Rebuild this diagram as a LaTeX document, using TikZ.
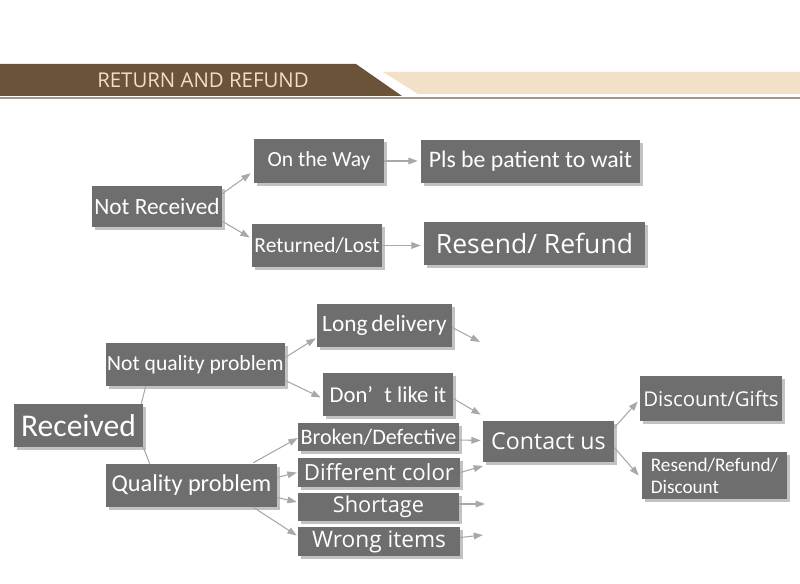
\documentclass[tikz,border=0pt]{standalone}
\usepackage{fontspec}
\setmainfont{Carlito}
\newfontfamily\opensans{Open Sans}
\usetikzlibrary{arrows.meta,calc,backgrounds}

\definecolor{boxgray}{RGB}{110,110,110}
\definecolor{shadegray}{RGB}{194,194,194}
\definecolor{arrowgray}{RGB}{168,168,168}
\definecolor{bandbrown}{RGB}{107,83,58}
\definecolor{bandbeige}{RGB}{242,224,200}
\definecolor{titlebeige}{RGB}{240,222,196}
\definecolor{linebrown}{RGB}{165,150,140}

\begin{document}
\begin{tikzpicture}[x=0.75pt,y=0.75pt,yscale=-1,xscale=1,
  box/.style 2 args={fill=boxgray, text=white, inner sep=0pt, minimum width=#1*0.75pt, minimum height=#2*0.75pt},
  fs/.style={font=\fontsize{#1}{#1}\selectfont},
  ofs/.style={font=\opensans\fontsize{#1}{#1}\selectfont},
  link/.style={draw=arrowgray, line width=0.8pt},
  arr/.style={link, -{Triangle[length=7pt,width=5pt]}}]
\useasboundingbox (0,0) rectangle (800,584);

%Header band
\fill [bandbrown] (0,64) -- (356,64) -- (402,96) -- (0,96) -- cycle ;
\fill [bandbeige] (383,72) -- (800,72) -- (800,94) -- (418,94) -- cycle ;
\draw [linebrown, line width=1.2] (0,98) -- (800,98) ;
% Text Node
\node [ofs=15.3, text=titlebeige, inner sep=0pt] (title) at (203,80) {RETURN AND REFUND};

%Not received branch
\node [box={130}{41}, fs=17.5] (nr) at (157,206.5) {Not Received};
\node [box={130}{44}, fs=16.2] (otw) at (319,161) {On the Way};
\node [box={219}{43}, fs=17.8] (pls) at (530.5,161.5) {Pls be patient to wait};
\node [box={130}{43}, fs=16.1] (rl) at (317,245.5) {Returned/Lost};
\node [box={221}{43}, ofs=19.9] (rr) at (534.5,243.5) {Resend/ Refund};

%Received branch
\node [box={129}{43}, fs=23.7] (rec) at (78.5,425.5) {Received};
\node [box={179}{43}, fs=16.2] (nqp) at (195.5,364.5) {Not quality problem};
\node [box={171}{43}, fs=18.2] (qp) at (191.5,485.5) {Quality problem};
\node [box={135}{43}, fs=17.5] (ld) at (384.5,325.5) {Long\,delivery};
\node [box={130}{43}, fs=17] (dli) at (388,394.5) {Don’\enspace t like it};
\node [box={161}{28}, fs=16.6] (bd) at (378.5,437) {Broken/Defective};
\node [box={162}{29}, ofs=16.7] (dc) at (379,472.5) {Different color};
\node [box={161}{28}, ofs=16.3] (sh) at (378.5,507) {Shortage};
\node [box={162}{29}, ofs=17] (wi) at (379,541.5) {Wrong items};
\node [box={131}{41}, ofs=17.4] (cu) at (548.5,441.5) {Contact us};
\node [box={142}{45}, ofs=15.3] (dg) at (711,398.5) {Discount/Gifts};
\node [box={145}{47}, font=\fontsize{14.4}{16.5}\selectfont, align=left] (rrd) at (714.5,475.5) {Resend/Refund/\\Discount};

%Free arrow ends
\coordinate (ldend) at (480,342);
\coordinate (dcend) at (483,466);
\coordinate (shend) at (485,504);
\coordinate (wiend) at (483,535);

%Shadows
\begin{scope}[on background layer]
\fill [white] (0,0) rectangle (800,584);
\foreach \n in {nr,otw,pls,rl,rr,rec,nqp,qp,ld,dli,bd,dc,sh,wi,cu,dg,rrd}
  \fill [shadegray] ($(\n.north west)+(3,3)$) rectangle ($(\n.south east)+(3,3)$);
\end{scope}

%Arrows top
\draw [arr] ($(nr.north east)+(0,8)$) -- ($(otw.south west)+(-3,-10)$);
\draw [arr] ($(nr.south east)+(0,-6)$) -- ($(rl.west)+(-2,-8)$);
\draw [arr] (otw.east) -- ($(otw.east -| pls.west)+(-3,0)$);
\draw [arr] (rl.east) -- ($(rl.east -| rr.west)+(-3,0)$);

%Arrows bottom
\draw [link] ($(rec.north east)+(-2,0)$) -- ($(nqp.south west)+(40,0)$);
\draw [link] ($(rec.south east)+(0,0)$) -- ($(qp.north west)+(44,0)$);
\draw [arr] ($(nqp.east)+(0,-7)$) -- ($(ld.south west)+(-1,-9)$);
\draw [arr] ($(nqp.east)+(0,16)$) -- ($(dli.west)+(-2,3)$);
\draw [arr] ($(qp.north east)+(-24,-1)$) -- ($(bd.west)+(0,1)$);
\draw [arr] ($(qp.east)+(0,-8)$) -- ($(dc.west)+(-1,0)$);
\draw [arr] ($(qp.east)+(0,12)$) -- ($(sh.west)+(-1,-5)$);
\draw [arr] ($(qp.south east)+(-24,0)$) -- ($(wi.west)+(-1,-6)$);
\draw [arr] ($(ld.east)+(0,2)$) -- (ldend);
\draw [arr] ($(dli.east)+(0,4)$) -- ($(cu.north west)+(-2,-6)$);
\draw [arr] ($(bd.east)+(0,3)$) -- ($(cu.west)+(-2,-1)$);
\draw [arr] (dc.east) -- (dcend);
\draw [arr] ($(sh.east)+(0,-3)$) -- (shend);
\draw [arr] ($(wi.east)+(0,-4)$) -- (wiend);
\draw [arr] ($(cu.north east)+(0,7)$) -- ($(dg.west)+(-2,3)$);
\draw [arr] ($(cu.east)+(0,6)$) -- ($(rrd.west)+(-3,0)$);

\end{tikzpicture}
\end{document}
